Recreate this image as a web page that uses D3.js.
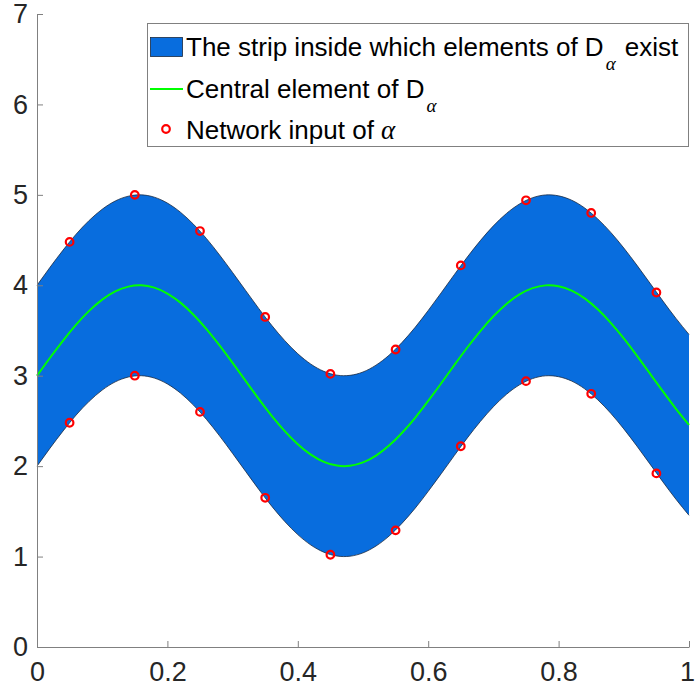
<!DOCTYPE html>
<html>
<head>
<meta charset="utf-8">
<script src="https://cdn.jsdelivr.net/npm/d3@7"></script>
<style>
  body { margin: 0; background: #fff; }
  svg text { font-family: "Liberation Sans", Arial, sans-serif; }
</style>
</head>
<body>
<svg width="695" height="689"></svg>
<script>
const svg = d3.select("svg");

const xs = [0, 0.02, 0.04, 0.06, 0.08, 0.1, 0.12, 0.14, 0.16, 0.18, 0.2, 0.22, 0.24, 0.26, 0.28, 0.3,
  0.32, 0.34, 0.36, 0.38, 0.4, 0.42, 0.44, 0.46, 0.48, 0.5, 0.52, 0.54, 0.56, 0.58, 0.6, 0.62, 0.64,
  0.66, 0.68, 0.7, 0.72, 0.74, 0.76, 0.78, 0.8, 0.82, 0.84, 0.86, 0.88, 0.9, 0.92, 0.94, 0.96, 0.98, 1];

const central = [3.000, 3.199, 3.389, 3.565, 3.717, 3.841, 3.932, 3.985, 4.000, 3.974, 3.909, 3.808,
  3.675, 3.516, 3.335, 3.141, 2.942, 2.744, 2.557, 2.388, 2.243, 2.128, 2.048, 2.006, 2.004, 2.041,
  2.117, 2.227, 2.369, 2.535, 2.721, 2.917, 3.117, 3.312, 3.494, 3.657, 3.794, 3.899, 3.968, 3.999,
  3.989, 3.941, 3.855, 3.734, 3.585, 3.412, 3.223, 3.025, 2.826, 2.634, 2.456];

const upper = [4.000, 4.199, 4.389, 4.565, 4.717, 4.841, 4.932, 4.985, 5.000, 4.974, 4.909, 4.808,
  4.675, 4.516, 4.335, 4.141, 3.942, 3.744, 3.557, 3.388, 3.243, 3.128, 3.048, 3.006, 3.004, 3.041,
  3.117, 3.227, 3.369, 3.535, 3.721, 3.917, 4.117, 4.312, 4.494, 4.657, 4.794, 4.899, 4.968, 4.999,
  4.989, 4.941, 4.855, 4.734, 4.585, 4.412, 4.223, 4.025, 3.826, 3.634, 3.456];

const lower = [2.000, 2.199, 2.389, 2.565, 2.717, 2.841, 2.932, 2.985, 3.000, 2.974, 2.909, 2.808,
  2.675, 2.516, 2.335, 2.141, 1.942, 1.744, 1.557, 1.388, 1.243, 1.128, 1.048, 1.006, 1.004, 1.041,
  1.117, 1.227, 1.369, 1.535, 1.721, 1.917, 2.117, 2.312, 2.494, 2.657, 2.794, 2.899, 2.968, 2.999,
  2.989, 2.941, 2.855, 2.734, 2.585, 2.412, 2.223, 2.025, 1.826, 1.634, 1.456];

// network inputs (red circles)
const inputX = [0.05, 0.15, 0.25, 0.35, 0.45, 0.55, 0.65, 0.75, 0.85, 0.95];
const inputUpper = [4.48, 5.00, 4.60, 3.65, 3.02, 3.29, 4.22, 4.94, 4.80, 3.92];
const inputLower = [2.48, 3.00, 2.60, 1.65, 1.02, 1.29, 2.22, 2.94, 2.80, 1.92];

const xTicks = [0, 0.2, 0.4, 0.6, 0.8, 1];
const yTicks = [0, 1, 2, 3, 4, 5, 6, 7];

const x = d3.scaleLinear().domain([0, 1]).range([37, 689]);
const y = d3.scaleLinear().domain([0, 7]).range([647, 14]);

const fillColor = "#086dde";
const edgeColor = "#1a2a40";

// strip
const area = d3.area()
  .x((d, i) => x(xs[i]))
  .y0((d, i) => y(lower[i]))
  .y1((d, i) => y(upper[i]))
  .curve(d3.curveNatural);

svg.append("path")
  .datum(xs)
  .attr("d", area)
  .attr("fill", fillColor)
  .attr("stroke", "none");

const edge = vals => d3.line()
  .x((d, i) => x(xs[i]))
  .y((d, i) => y(vals[i]))
  .curve(d3.curveNatural)(xs);

[upper, lower].forEach(vals => {
  svg.append("path")
    .attr("d", edge(vals))
    .attr("fill", "none")
    .attr("stroke", edgeColor)
    .attr("stroke-width", 0.8);
});

// central element
svg.append("path")
  .attr("d", edge(central))
  .attr("fill", "none")
  .attr("stroke", "#00ff00")
  .attr("stroke-width", 2);

// network inputs
const pts = inputX.map((v, i) => [v, inputUpper[i]])
  .concat(inputX.map((v, i) => [v, inputLower[i]]));

svg.selectAll("circle.input")
  .data(pts)
  .join("circle")
  .attr("class", "input")
  .attr("cx", d => x(d[0]))
  .attr("cy", d => y(d[1]))
  .attr("r", 3.8)
  .attr("fill", "none")
  .attr("stroke", "#ff0000")
  .attr("stroke-width", 2.2);

// axes (ticks inside, left and bottom only)
const xAxis = d3.axisBottom(x).tickValues(xTicks).tickSizeInner(-6).tickSizeOuter(0)
  .tickFormat(d => d === 0 || d === 1 ? d3.format("d")(d) : d3.format(".1f")(d));
const yAxis = d3.axisLeft(y).tickValues(yTicks).tickSizeInner(-6).tickSizeOuter(0)
  .tickFormat(d3.format("d"));

const gx = svg.append("g").attr("transform", "translate(0,647)").call(xAxis);
const gy = svg.append("g").attr("transform", "translate(37,0)").call(yAxis);

[gx, gy].forEach(g => {
  g.select(".domain").attr("stroke", "#808080").attr("stroke-width", 1);
  g.selectAll(".tick line").attr("stroke", "#808080");
  g.selectAll(".tick text")
    .attr("fill", "#262626")
    .style("font-size", "27px")
    .style("font-family", "'Liberation Sans', Arial, sans-serif");
});
gx.selectAll(".tick text").attr("y", 15);
gx.selectAll(".tick text").filter(d => d === 1).attr("dx", -2);
gy.selectAll(".tick text").attr("x", -9);

// legend
const legend = svg.append("g");
legend.append("rect")
  .attr("x", 147.5).attr("y", 23.5)
  .attr("width", 541).attr("height", 123)
  .attr("fill", "#fff")
  .attr("stroke", "#808080")
  .attr("stroke-width", 1);

legend.append("rect")
  .attr("x", 150.5).attr("y", 37.5)
  .attr("width", 32).attr("height", 19)
  .attr("fill", fillColor)
  .attr("stroke", edgeColor)
  .attr("stroke-width", 0.8);

legend.append("line")
  .attr("x1", 150).attr("x2", 183)
  .attr("y1", 89).attr("y2", 89)
  .attr("stroke", "#00ff00")
  .attr("stroke-width", 2);

legend.append("circle")
  .attr("cx", 166).attr("cy", 129).attr("r", 3.8)
  .attr("fill", "none")
  .attr("stroke", "#ff0000")
  .attr("stroke-width", 2.2);

const labelSize = "26px";
const alphaStyle = t => t
  .style("font-family", "'Liberation Serif', 'Times New Roman', serif")
  .style("font-style", "italic");

const t1 = legend.append("text").attr("x", 186).attr("y", 56).style("font-size", labelSize).attr("fill", "#000");
t1.append("tspan").text("The strip inside which elements of D");
t1.append("tspan").attr("dy", 14).attr("dx", 2).style("font-size", "19px").call(alphaStyle).text("α");
t1.append("tspan").attr("dy", -14).attr("dx", 2).text(" exist");

const t2 = legend.append("text").attr("x", 186).attr("y", 98).style("font-size", labelSize).attr("fill", "#000");
t2.append("tspan").text("Central element of D");
t2.append("tspan").attr("dy", 14).attr("dx", 2).style("font-size", "19px").call(alphaStyle).text("α");

const t3 = legend.append("text").attr("x", 186).attr("y", 139).style("font-size", labelSize).attr("fill", "#000");
t3.append("tspan").text("Network input of ");
t3.append("tspan").style("font-size", "27px").call(alphaStyle).text("α");
</script>
</body>
</html>
